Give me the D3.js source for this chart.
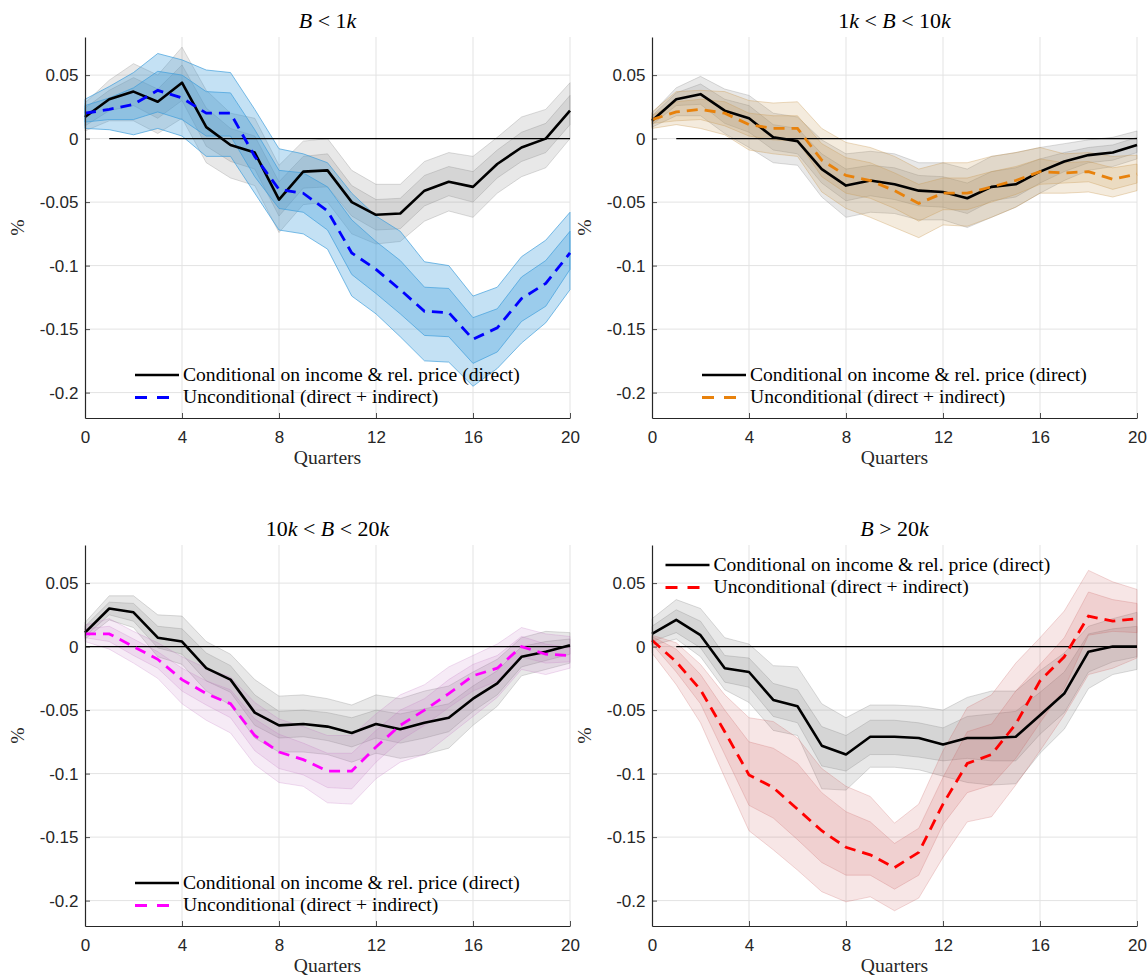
<!DOCTYPE html>
<html>
<head>
<meta charset="utf-8">
<script src="https://cdn.jsdelivr.net/npm/d3@7"></script>
<style>
  body { margin: 0; background: #fff; }
  svg { display: block; }
</style>
</head>
<body>
<svg id="fig" width="1148" height="977"></svg>
<script>
// ---- shared axes data ----
const quarters = [0,1,2,3,4,5,6,7,8,9,10,11,12,13,14,15,16,17,18,19,20];
const xTicks = [0,4,8,12,16,20];
const yTicks = [0.05,0,-0.05,-0.1,-0.15,-0.2];
const yTickLabels = ["0.05","0","-0.05","-0.1","-0.15","-0.2"];
const legendLabels = ["Conditional on income & rel. price (direct)", "Unconditional (direct + indirect)"];

// ---- B < 1k ----
const p1CondMean = [0.017,0.031,0.037,0.029,0.044,0.009,-0.005,-0.011,-0.048,-0.026,-0.025,-0.050,-0.060,-0.059,-0.041,-0.034,-0.038,-0.020,-0.007,0.000,0.022];
const p1CondHi90 = [0.028,0.046,0.059,0.050,0.072,0.038,0.020,0.016,-0.021,-0.002,0.000,-0.025,-0.036,-0.036,-0.018,-0.011,-0.014,0.001,0.017,0.023,0.044];
const p1CondHi68 = [0.024,0.038,0.048,0.039,0.058,0.024,0.008,0.002,-0.034,-0.014,-0.012,-0.037,-0.048,-0.047,-0.029,-0.022,-0.026,-0.009,0.005,0.012,0.034];
const p1CondLo68 = [0.010,0.022,0.026,0.016,0.030,-0.006,-0.018,-0.024,-0.061,-0.039,-0.038,-0.061,-0.072,-0.071,-0.053,-0.045,-0.050,-0.031,-0.018,-0.011,0.011];
const p1CondLo90 = [0.006,0.014,0.014,0.004,0.016,-0.019,-0.031,-0.037,-0.074,-0.052,-0.050,-0.075,-0.083,-0.081,-0.065,-0.057,-0.062,-0.043,-0.030,-0.023,0.000];
const p1UncMean = [0.020,0.023,0.027,0.038,0.032,0.020,0.020,-0.014,-0.040,-0.043,-0.057,-0.090,-0.103,-0.119,-0.136,-0.137,-0.158,-0.149,-0.126,-0.114,-0.090];
const p1UncHi90 = [0.031,0.041,0.052,0.067,0.062,0.054,0.052,0.023,-0.008,-0.012,-0.019,-0.043,-0.061,-0.073,-0.097,-0.100,-0.124,-0.117,-0.093,-0.080,-0.058];
const p1UncHi68 = [0.026,0.032,0.040,0.053,0.050,0.037,0.036,0.007,-0.025,-0.027,-0.038,-0.064,-0.081,-0.096,-0.117,-0.118,-0.141,-0.134,-0.109,-0.096,-0.073];
const p1UncLo68 = [0.013,0.015,0.015,0.021,0.015,0.002,0.002,-0.030,-0.055,-0.058,-0.072,-0.107,-0.122,-0.138,-0.155,-0.156,-0.177,-0.168,-0.144,-0.132,-0.103];
const p1UncLo90 = [0.008,0.007,0.003,0.008,0.002,-0.014,-0.014,-0.043,-0.072,-0.075,-0.087,-0.124,-0.138,-0.156,-0.175,-0.176,-0.195,-0.181,-0.161,-0.145,-0.119];

// ---- 1k < B < 10k ----
const p2CondMean = [0.014,0.031,0.035,0.022,0.016,0.001,-0.002,-0.024,-0.037,-0.033,-0.036,-0.041,-0.042,-0.047,-0.038,-0.036,-0.026,-0.018,-0.013,-0.011,-0.005];
const p2CondHi90 = [0.020,0.040,0.049,0.039,0.034,0.020,0.017,-0.001,-0.012,-0.010,-0.012,-0.019,-0.019,-0.024,-0.014,-0.011,-0.007,-0.004,-0.001,0.001,0.006];
const p2CondHi68 = [0.018,0.036,0.043,0.031,0.026,0.011,0.008,-0.012,-0.024,-0.021,-0.023,-0.029,-0.030,-0.035,-0.026,-0.023,-0.016,-0.011,-0.007,-0.005,0.001];
const p2CondLo68 = [0.011,0.026,0.027,0.012,0.005,-0.009,-0.012,-0.035,-0.049,-0.045,-0.048,-0.053,-0.054,-0.059,-0.049,-0.046,-0.035,-0.026,-0.019,-0.017,-0.011];
const p2CondLo90 = [0.009,0.018,0.018,0.004,-0.007,-0.019,-0.021,-0.046,-0.062,-0.058,-0.059,-0.064,-0.064,-0.070,-0.062,-0.054,-0.043,-0.033,-0.025,-0.022,-0.016];
const p2UncMean = [0.015,0.021,0.023,0.020,0.011,0.008,0.008,-0.017,-0.029,-0.033,-0.041,-0.051,-0.043,-0.043,-0.038,-0.033,-0.026,-0.027,-0.026,-0.032,-0.028];
const p2UncHi90 = [0.021,0.037,0.038,0.037,0.030,0.028,0.029,0.008,-0.003,-0.007,-0.014,-0.024,-0.019,-0.019,-0.014,-0.011,-0.007,-0.012,-0.011,-0.014,-0.013];
const p2UncHi68 = [0.018,0.029,0.031,0.029,0.020,0.018,0.018,-0.004,-0.015,-0.019,-0.027,-0.036,-0.031,-0.031,-0.026,-0.022,-0.016,-0.019,-0.018,-0.023,-0.020];
const p2UncLo68 = [0.012,0.014,0.015,0.010,0.002,-0.001,-0.002,-0.030,-0.043,-0.047,-0.055,-0.065,-0.056,-0.056,-0.050,-0.044,-0.036,-0.035,-0.034,-0.040,-0.035];
const p2UncLo90 = [0.008,0.011,0.008,0.003,-0.009,-0.012,-0.014,-0.042,-0.055,-0.062,-0.070,-0.078,-0.068,-0.069,-0.062,-0.054,-0.043,-0.043,-0.042,-0.046,-0.041];

// ---- 10k < B < 20k ----
const p3CondMean = [0.011,0.030,0.027,0.007,0.004,-0.017,-0.026,-0.052,-0.062,-0.061,-0.063,-0.068,-0.061,-0.065,-0.060,-0.056,-0.041,-0.029,-0.008,-0.004,0.001];
const p3CondHi90 = [0.019,0.040,0.040,0.025,0.024,0.004,-0.006,-0.026,-0.039,-0.038,-0.041,-0.046,-0.038,-0.041,-0.035,-0.031,-0.020,-0.010,0.007,0.012,0.011];
const p3CondHi68 = [0.016,0.035,0.034,0.016,0.014,-0.005,-0.015,-0.038,-0.051,-0.050,-0.052,-0.056,-0.050,-0.053,-0.049,-0.045,-0.031,-0.019,0.000,0.004,0.006];
const p3CondLo68 = [0.008,0.025,0.020,-0.001,-0.006,-0.027,-0.036,-0.062,-0.072,-0.071,-0.074,-0.079,-0.072,-0.076,-0.072,-0.067,-0.051,-0.038,-0.016,-0.011,-0.006];
const p3CondLo90 = [0.006,0.021,0.015,-0.008,-0.014,-0.035,-0.046,-0.072,-0.083,-0.083,-0.085,-0.091,-0.084,-0.088,-0.085,-0.080,-0.062,-0.047,-0.023,-0.018,-0.013];
const p3UncMean = [0.010,0.010,0.000,-0.010,-0.026,-0.037,-0.045,-0.070,-0.083,-0.089,-0.098,-0.098,-0.079,-0.062,-0.050,-0.037,-0.023,-0.017,0.000,-0.006,-0.007];
const p3UncHi90 = [0.017,0.022,0.012,0.003,-0.008,-0.017,-0.024,-0.044,-0.057,-0.063,-0.070,-0.070,-0.053,-0.038,-0.030,-0.016,-0.007,0.002,0.015,0.010,0.008];
const p3UncHi68 = [0.014,0.016,0.006,-0.004,-0.017,-0.027,-0.034,-0.057,-0.069,-0.076,-0.084,-0.084,-0.066,-0.050,-0.041,-0.026,-0.014,-0.007,0.008,0.002,-0.001];
const p3UncLo68 = [0.007,0.004,-0.007,-0.017,-0.035,-0.046,-0.056,-0.082,-0.096,-0.101,-0.111,-0.112,-0.091,-0.074,-0.062,-0.048,-0.035,-0.027,-0.008,-0.013,-0.012];
const p3UncLo90 = [0.004,-0.002,-0.013,-0.025,-0.045,-0.058,-0.068,-0.093,-0.107,-0.110,-0.123,-0.124,-0.104,-0.091,-0.085,-0.070,-0.055,-0.040,-0.018,-0.022,-0.017];

// ---- B > 20k ----
const p4CondMean = [0.010,0.021,0.009,-0.017,-0.020,-0.042,-0.047,-0.078,-0.085,-0.071,-0.071,-0.072,-0.077,-0.072,-0.072,-0.071,-0.054,-0.037,-0.004,0.000,0.000];
const p4CondHi90 = [0.022,0.037,0.030,0.007,0.002,-0.015,-0.016,-0.045,-0.056,-0.046,-0.046,-0.047,-0.050,-0.040,-0.035,-0.035,-0.019,-0.005,0.016,0.022,0.027];
const p4CondHi68 = [0.016,0.029,0.020,-0.007,-0.009,-0.029,-0.034,-0.063,-0.070,-0.058,-0.058,-0.060,-0.064,-0.055,-0.053,-0.051,-0.036,-0.020,0.010,0.014,0.016];
const p4CondLo68 = [0.004,0.011,-0.001,-0.028,-0.032,-0.055,-0.060,-0.094,-0.098,-0.085,-0.085,-0.087,-0.090,-0.088,-0.090,-0.090,-0.069,-0.052,-0.020,-0.012,-0.008];
const p4CondLo90 = [0.001,0.006,-0.008,-0.034,-0.044,-0.066,-0.070,-0.112,-0.113,-0.095,-0.095,-0.097,-0.102,-0.107,-0.109,-0.108,-0.084,-0.065,-0.033,-0.022,-0.018];
const p4UncMean = [0.005,-0.012,-0.034,-0.067,-0.101,-0.111,-0.128,-0.145,-0.158,-0.164,-0.174,-0.162,-0.124,-0.092,-0.085,-0.061,-0.027,-0.008,0.024,0.020,0.022];
const p4UncHi90 = [0.009,0.003,-0.014,-0.038,-0.056,-0.059,-0.072,-0.096,-0.110,-0.118,-0.139,-0.124,-0.082,-0.048,-0.038,-0.013,0.007,0.028,0.060,0.051,0.045];
const p4UncHi68 = [0.008,-0.002,-0.022,-0.050,-0.075,-0.080,-0.092,-0.115,-0.130,-0.138,-0.155,-0.143,-0.103,-0.067,-0.061,-0.035,-0.014,0.007,0.043,0.037,0.034];
const p4UncLo68 = [0.002,-0.020,-0.045,-0.085,-0.125,-0.135,-0.152,-0.170,-0.180,-0.180,-0.191,-0.180,-0.140,-0.115,-0.109,-0.088,-0.060,-0.033,0.009,0.012,0.011];
const p4UncLo90 = [-0.005,-0.030,-0.060,-0.103,-0.145,-0.160,-0.176,-0.193,-0.201,-0.197,-0.208,-0.198,-0.166,-0.138,-0.134,-0.109,-0.082,-0.054,-0.022,-0.017,-0.009];

// ---- panel definitions ----
const panels = [
  { title: [["B",true],[" < 1",false],["k",true]],
    left: 85, top: 37, zeroFrom: 1, legend: "bottom",
    cond: [p1CondMean,p1CondLo90,p1CondHi90,p1CondLo68,p1CondHi68],
    unc:  [p1UncMean,p1UncLo90,p1UncHi90,p1UncLo68,p1UncHi68],
    line: "#0000ff", band: "#3d9ddc", bandAlpha: 0.3, edgeAlpha: 0.85 },
  { title: [["1",false],["k",true],[" < ",false],["B",true],[" < 10",false],["k",true]],
    left: 652, top: 37, zeroFrom: 1, legend: "bottom",
    cond: [p2CondMean,p2CondLo90,p2CondHi90,p2CondLo68,p2CondHi68],
    unc:  [p2UncMean,p2UncLo90,p2UncHi90,p2UncLo68,p2UncHi68],
    line: "#e8820c", band: "#c99a55", bandAlpha: 0.2, edgeAlpha: 0.45 },
  { title: [["10",false],["k",true],[" < ",false],["B",true],[" < 20",false],["k",true]],
    left: 85, top: 545, zeroFrom: 0, legend: "bottom",
    cond: [p3CondMean,p3CondLo90,p3CondHi90,p3CondLo68,p3CondHi68],
    unc:  [p3UncMean,p3UncLo90,p3UncHi90,p3UncLo68,p3UncHi68],
    line: "#ff00ff", band: "#bf6fbf", bandAlpha: 0.14, edgeAlpha: 0.3 },
  { title: [["B",true],[" > 20",false],["k",true]],
    left: 652, top: 545, zeroFrom: 1, legend: "top",
    cond: [p4CondMean,p4CondLo90,p4CondHi90,p4CondLo68,p4CondHi68],
    unc:  [p4UncMean,p4UncLo90,p4UncHi90,p4UncLo68,p4UncHi68],
    line: "#ff0000", band: "#c85a5a", bandAlpha: 0.15, edgeAlpha: 0.3 }
];

const W = 485, H = 381;
const serif = "'Liberation Serif','Times New Roman',serif";
const sans = "'Liberation Sans',Arial,Helvetica,sans-serif";
const axisColor = "#262626";
const gridColor = "#e3e3e3";

const svg = d3.select("#fig");

// scale serif text so the long legend entry spans its usual width
const probe = svg.append("text").attr("font-family", serif).attr("font-size", 17).text(legendLabels[0]);
const kSerif = 337 / probe.node().getComputedTextLength();
probe.remove();
const legendSize = 17 * kSerif;
const titleSize = 19 * kSerif;
const labelSize = 17 * kSerif;

panels.forEach(p => {
  const x = d3.scaleLinear().domain([0, 20]).range([p.left, p.left + W]);
  const y = d3.scaleLinear().domain([-0.22, 0.08]).range([p.top + H, p.top]);
  const g = svg.append("g");

  // grid
  g.append("g").selectAll("line").data(xTicks.filter(t => t > 0)).join("line")
    .attr("x1", d => x(d)).attr("x2", d => x(d))
    .attr("y1", p.top).attr("y2", p.top + H)
    .attr("stroke", gridColor).attr("stroke-width", 1);
  g.append("g").selectAll("line").data(yTicks).join("line")
    .attr("x1", p.left).attr("x2", p.left + W)
    .attr("y1", d => y(d)).attr("y2", d => y(d))
    .attr("stroke", gridColor).attr("stroke-width", 1);

  const band = (lo, hi) => d3.area()
    .x((d, i) => x(quarters[i]))
    .y0((d, i) => y(lo[i]))
    .y1((d, i) => y(hi[i]))(quarters);

  const drawBands = (s, color, alpha, edgeAlpha) => {
    [[s[1], s[2]], [s[3], s[4]]].forEach(([lo, hi]) => {
      g.append("path").attr("d", band(lo, hi))
        .attr("fill", color).attr("fill-opacity", alpha)
        .attr("stroke", color).attr("stroke-opacity", edgeAlpha).attr("stroke-width", 0.8);
    });
  };
  drawBands(p.cond, "#7f7f7f", 0.18, 0.35);
  drawBands(p.unc, p.band, p.bandAlpha, p.edgeAlpha);

  // zero reference
  g.append("line")
    .attr("x1", x(p.zeroFrom)).attr("x2", x(20))
    .attr("y1", y(0)).attr("y2", y(0))
    .attr("stroke", "#000").attr("stroke-width", 1.4);

  const lineGen = d3.line().x((d, i) => x(quarters[i])).y(d => y(d));
  g.append("path").attr("d", lineGen(p.cond[0]))
    .attr("fill", "none").attr("stroke", "#000").attr("stroke-width", 2.6)
    .attr("stroke-linejoin", "round");
  g.append("path").attr("d", lineGen(p.unc[0]))
    .attr("fill", "none").attr("stroke", p.line).attr("stroke-width", 2.8)
    .attr("stroke-dasharray", "11,7");

  // axes
  const xAxis = d3.axisBottom(x).tickValues(xTicks).tickFormat(d3.format("d"))
    .tickSize(-5).tickSizeOuter(0).tickPadding(13);
  const yAxis = d3.axisLeft(y).tickValues(yTicks)
    .tickFormat((d, i) => yTickLabels[i]).tickSize(-5).tickSizeOuter(0).tickPadding(6.5);
  [g.append("g").attr("transform", `translate(0,${p.top + H})`).call(xAxis),
   g.append("g").attr("transform", `translate(${p.left},0)`).call(yAxis)].forEach(a => {
    a.select(".domain").attr("stroke", axisColor).attr("stroke-width", 1.2);
    a.selectAll(".tick line").attr("stroke", axisColor).attr("stroke-width", 0.8);
    a.selectAll("text").attr("fill", axisColor).attr("font-family", sans).attr("font-size", 17);
  });

  // title
  const t = g.append("text").attr("x", p.left + W / 2).attr("y", p.top - 9)
    .attr("text-anchor", "middle").attr("font-family", serif).attr("font-size", titleSize)
    .attr("fill", "#000");
  p.title.forEach(([s, it]) => t.append("tspan").attr("font-style", it ? "italic" : "normal").text(s));

  // axis labels
  g.append("text").attr("x", p.left + W / 2).attr("y", p.top + H + 46)
    .attr("text-anchor", "middle").attr("font-family", serif).attr("font-size", labelSize)
    .attr("fill", axisColor).text("Quarters");
  g.append("text")
    .attr("transform", `translate(${p.left - 61},${p.top + H / 2}) rotate(-90)`)
    .attr("text-anchor", "middle").attr("font-family", serif).attr("font-size", labelSize)
    .attr("fill", axisColor).text("%");

  // legend
  const lx = p.legend === "top" ? p.left + 13.5 : p.left + 50;
  const ly = p.legend === "top" ? p.top + 20 : p.top + 338;
  const styles = [
    { stroke: "#000", width: 2.6, dash: null },
    { stroke: p.line, width: 2.8, dash: "12,10" }
  ];
  legendLabels.forEach((lab, i) => {
    const yy = ly + i * 22.5;
    g.append("line").attr("x1", lx).attr("x2", lx + 44).attr("y1", yy).attr("y2", yy)
      .attr("stroke", styles[i].stroke).attr("stroke-width", styles[i].width)
      .attr("stroke-dasharray", styles[i].dash);
    g.append("text").attr("x", lx + 48).attr("y", yy + 5.5)
      .attr("font-family", serif).attr("font-size", legendSize).attr("fill", "#000")
      .text(lab);
  });
});
</script>
</body>
</html>
